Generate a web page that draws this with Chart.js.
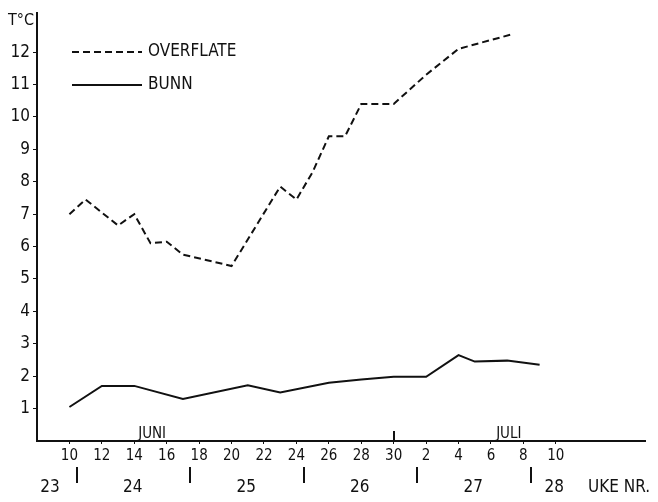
<!DOCTYPE html>
<html>
<head>
<meta charset="utf-8">
<script src="https://cdn.jsdelivr.net/npm/chart.js@4"></script>
<style>
  html, body { margin: 0; padding: 0; background: #fff; }
  #wrap { width: 658px; height: 502px; position: relative; }
</style>
</head>
<body>
<div id="wrap"><canvas id="c" width="658" height="502"></canvas></div>
<script>
// ---- data (x = days after 10 June) ----
const overflateDays = [0, 1, 3, 4, 5, 6, 7, 10, 13, 14, 15, 16, 17, 18, 20, 22, 24, 27.3];
const overflateTemp = [7.0, 7.45, 6.65, 7.0, 6.1, 6.15, 5.75, 5.4, 7.85, 7.45, 8.3, 9.4, 9.4, 10.4, 10.4, 11.3, 12.1, 12.55];
const bunnDays = [0, 2, 4, 7, 11, 13, 16, 18, 20, 22, 24, 25, 27, 29];
const bunnTemp = [1.05, 1.7, 1.7, 1.3, 1.72, 1.5, 1.8, 1.9, 1.98, 1.98, 2.65, 2.45, 2.48, 2.35];

const dateTickDays = [0, 2, 4, 6, 8, 10, 12, 14, 16, 18, 20, 22, 24, 26, 28, 30];
const dateTickLabels = ['10', '12', '14', '16', '18', '20', '22', '24', '26', '28', '30', '2', '4', '6', '8', '10'];
const yTickValues = [1, 2, 3, 4, 5, 6, 7, 8, 9, 10, 11, 12];

const monthNames = ['JUNI', 'JULI'];
const monthLabelDays = [5.1, 27.1];
const monthBoundaryDays = [20];

const weekNumbers = ['23', '24', '25', '26', '27', '28'];
const weekLabelDays = [-1.2, 3.9, 10.9, 17.9, 24.9, 29.9];
const weekBoundaryDays = [0.45, 7.45, 14.45, 21.45, 28.45];
const weekAxisTitle = 'UKE NR.';
const weekAxisTitleDay = 33.9;

const yTitle = 'T°C';
const seriesNames = ['OVERFLATE', 'BUNN'];

const FONT = '"DejaVu Sans Condensed", "DejaVu Sans", sans-serif';
const INK = '#111';

const toPoints = (xs, ys) => xs.map((x, i) => ({ x: x, y: ys[i] }));

const extras = {
  id: 'extras',
  afterDraw(chart) {
    const ctx = chart.ctx;
    const xs = chart.scales.x;
    const area = chart.chartArea;
    ctx.save();
    ctx.fillStyle = INK;
    ctx.strokeStyle = INK;

    // y title
    ctx.font = '16px ' + FONT;
    ctx.textAlign = 'left';
    ctx.textBaseline = 'middle';
    ctx.fillText(yTitle, 8, 21);

    // legend
    const legendY = [52, 85];
    chart.data.datasets.forEach((ds, i) => {
      ctx.beginPath();
      ctx.lineWidth = 2;
      ctx.setLineDash(ds.borderDash || []);
      ctx.moveTo(72, legendY[i]);
      ctx.lineTo(142, legendY[i]);
      ctx.stroke();
      ctx.setLineDash([]);
      ctx.font = '17px ' + FONT;
      ctx.textAlign = 'left';
      ctx.textBaseline = 'middle';
      ctx.fillText(ds.label, 148, legendY[i]);
    });

    // month labels and month boundary tick
    ctx.font = '15px ' + FONT;
    ctx.textAlign = 'center';
    ctx.textBaseline = 'alphabetic';
    monthNames.forEach((m, i) => {
      ctx.fillText(m, xs.getPixelForValue(monthLabelDays[i]), area.bottom - 3);
    });
    ctx.lineWidth = 2;
    monthBoundaryDays.forEach(d => {
      const px = Math.round(xs.getPixelForValue(d));
      ctx.beginPath();
      ctx.moveTo(px, area.bottom - 10);
      ctx.lineTo(px, area.bottom);
      ctx.stroke();
    });

    // week boundaries
    weekBoundaryDays.forEach(d => {
      const px = Math.round(xs.getPixelForValue(d));
      ctx.beginPath();
      ctx.moveTo(px, area.bottom + 26);
      ctx.lineTo(px, area.bottom + 42);
      ctx.stroke();
    });

    // week numbers
    ctx.font = '17px ' + FONT;
    ctx.textBaseline = 'middle';
    weekNumbers.forEach((w, i) => {
      ctx.fillText(w, xs.getPixelForValue(weekLabelDays[i]), area.bottom + 47);
    });
    ctx.fillText(weekAxisTitle, xs.getPixelForValue(weekAxisTitleDay), area.bottom + 47);
    ctx.restore();
  }
};

new Chart(document.getElementById('c'), {
  type: 'line',
  data: {
    datasets: [
      {
        label: seriesNames[0],
        data: toPoints(overflateDays, overflateTemp),
        borderColor: INK,
        borderWidth: 2,
        borderDash: [7, 4],
        pointRadius: 0,
        tension: 0,
        fill: false
      },
      {
        label: seriesNames[1],
        data: toPoints(bunnDays, bunnTemp),
        borderColor: INK,
        borderWidth: 2,
        pointRadius: 0,
        tension: 0,
        fill: false
      }
    ]
  },
  options: {
    responsive: false,
    animation: false,
    devicePixelRatio: 1,
    layout: { padding: { left: 0, right: 13, top: 12, bottom: 0 } },
    plugins: {
      legend: { display: false },
      tooltip: { enabled: false },
      title: { display: false }
    },
    scales: {
      x: {
        type: 'linear',
        position: 'bottom',
        min: -2,
        max: 35.5,
        afterBuildTicks: (s) => { s.ticks = dateTickDays.map(v => ({ value: v })); },
        afterFit: (s) => { s.height = 61; },
        ticks: {
          autoSkip: false,
          maxRotation: 0,
          padding: 3,
          color: INK,
          font: { family: FONT, size: 15 },
          callback: (v) => {
            const i = dateTickDays.indexOf(v);
            return i >= 0 ? dateTickLabels[i] : '';
          }
        },
        grid: { display: true, drawOnChartArea: false, drawTicks: true, tickLength: 3, color: INK, lineWidth: 1 },
        border: { display: true, color: INK, width: 2 }
      },
      y: {
        type: 'linear',
        min: 0,
        max: 13.2,
        afterBuildTicks: (s) => { s.ticks = yTickValues.map(v => ({ value: v })); },
        afterFit: (s) => { s.width = 37; },
        ticks: {
          padding: 3,
          color: INK,
          font: { family: FONT, size: 17 },
          callback: (v) => String(v)
        },
        grid: { display: true, drawOnChartArea: false, drawTicks: true, tickLength: 4, color: INK, lineWidth: 1 },
        border: { display: true, color: INK, width: 2 }
      }
    }
  },
  plugins: [extras]
});
</script>
</body>
</html>
